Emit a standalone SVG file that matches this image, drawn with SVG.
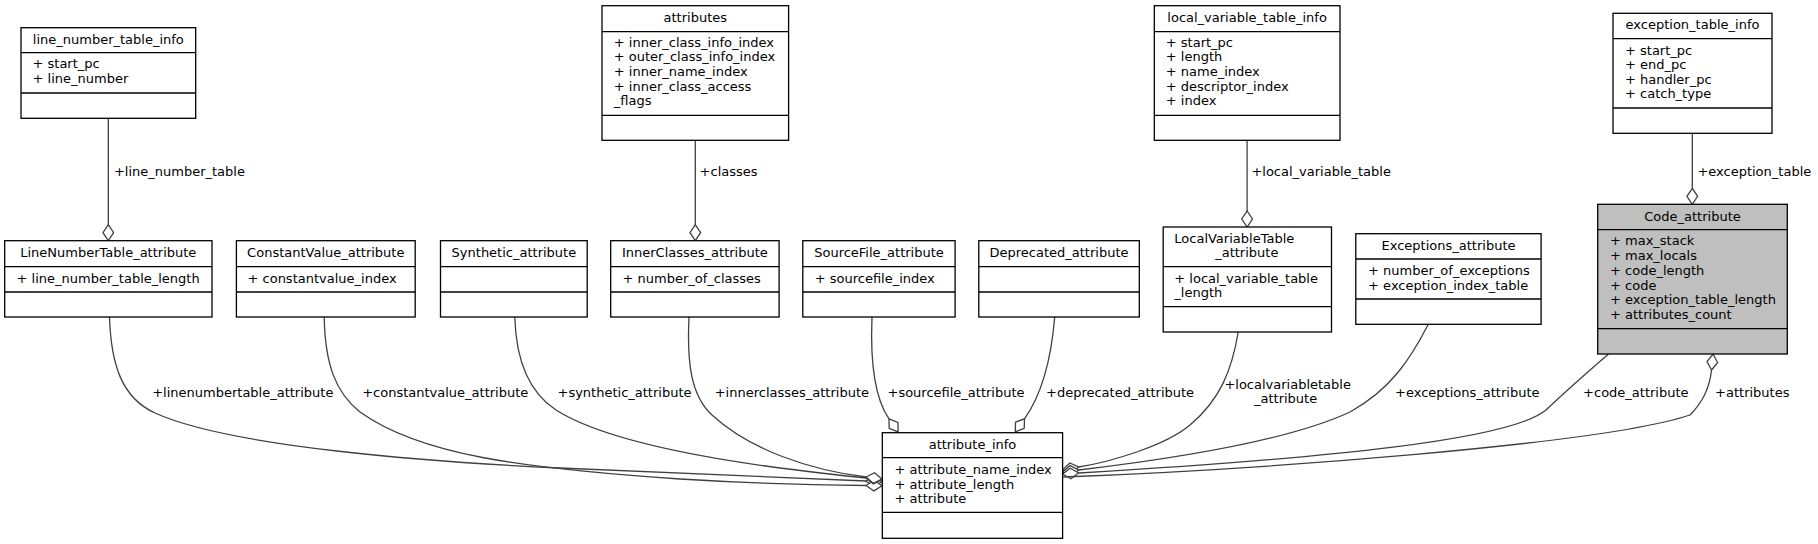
<svg xmlns="http://www.w3.org/2000/svg" width="1818" height="544" viewBox="0 0 1818 544">
<style>
text{font-family:"DejaVu Sans","Liberation Sans",sans-serif;font-size:13px;fill:#000}
.t{text-anchor:middle}
.b{fill:#fff;stroke:#000;stroke-width:1.3}
.hl{fill:#bfbfbf}
.s{stroke:#000;stroke-width:1.3}
.e{fill:none;stroke:#404040;stroke-width:1.3;marker-end:url(#od)}
.n{fill:none;stroke:#404040;stroke-width:1.3}
</style>
<defs>
<marker id="od" markerUnits="userSpaceOnUse" markerWidth="20" markerHeight="14" refX="1" refY="7" orient="auto" viewBox="0 0 20 14" style="overflow:visible">
<path d="M1,7 L9,1.67 L17,7 L9,12.33 Z" fill="#fff" stroke="#404040" stroke-width="1.3"/>
</marker>
</defs>

<g id="connectors">
<path class="e" d="M108.3,118.3 L108.3,224.7"/>
<path class="e" d="M695.3,140.3 L695.3,224.7"/>
<path class="e" d="M1247.1,140.3 L1247.1,211"/>
<path class="e" d="M1692.3,133.3 L1692.3,188.3"/>
<path class="e" d="M109.5,317 C111,365 122,398 155,413 C230,447 430,462 560,468 C700,474 800,478 866,481"/>
<path class="e" d="M324.2,317 C325,365 336,393 360,412 C420,455 520,468 680,479 C760,484 820,485 866,485.5"/>
<path class="e" d="M514.8,317 C516,362 530,393 556,410 C600,438 690,456 780,468 C820,473 845,476 866,478"/>
<path class="e" d="M689,317 C687,360 690,395 712,415 C750,450 810,470 866,477"/>
<path class="e" d="M872,317 C870,365 876,400 889,418.8"/>
<path class="e" d="M1054.7,317 C1052,350 1045,390 1024.5,418.8"/>
<path class="e" d="M1238.2,332 C1232,370 1220,400 1190,425 C1165,446 1110,462 1078.6,467"/>
<path class="e" d="M1428.3,324.3 C1410,360 1390,390 1350,412 C1290,440 1180,458 1078.6,470"/>
<path class="e" d="M1608.5,354 C1590,370 1565,392 1546,410 C1510,440 1330,458 1078.6,473"/>
<path class="e" d="M1062.6,477 C1250,470 1600,445 1690,415 C1705,400 1710,385 1711.5,370"/>
<text x="113.9" y="176">+line_number_table</text>
<text x="699.6" y="176">+classes</text>
<text x="1251.4" y="176">+local_variable_table</text>
<text x="1697.4" y="176">+exception_table</text>
<text x="152.2" y="396.5">+linenumbertable_attribute</text>
<text x="362.2" y="396.5">+constantvalue_attribute</text>
<text x="557.5" y="396.5">+synthetic_attribute</text>
<text x="714.7" y="396.5">+innerclasses_attribute</text>
<text x="887.5" y="396.5">+sourcefile_attribute</text>
<text x="1046" y="396.5">+deprecated_attribute</text>
<text x="1224.4" y="388.5">+localvariabletable</text>
<text x="1254" y="403.3">_attribute</text>
<text x="1395.1" y="396.5">+exceptions_attribute</text>
<text x="1583.1" y="396.5">+code_attribute</text>
<text x="1715.1" y="396.5">+attributes</text>
</g>

<g id="line_number_table_info">
<rect class="b" x="21" y="27.7" width="174.7" height="90.6"/>
<line class="s" x1="21" y1="52.7" x2="195.7" y2="52.7"/>
<line class="s" x1="21" y1="93" x2="195.7" y2="93"/>
<text class="t" x="108.3" y="43.5">line_number_table_info</text>
<text x="32.5" y="68.3">+ start_pc</text>
<text x="32.5" y="83.3">+ line_number</text>
</g>

<g id="attributes">
<rect class="b" x="602" y="5.7" width="186.6" height="134.6"/>
<line class="s" x1="602" y1="31.7" x2="788.6" y2="31.7"/>
<line class="s" x1="602" y1="115.3" x2="788.6" y2="115.3"/>
<text class="t" x="695.3" y="21.5">attributes</text>
<text x="613.8" y="46.5">+ inner_class_info_index</text>
<text x="613.8" y="61.3">+ outer_class_info_index</text>
<text x="613.8" y="76">+ inner_name_index</text>
<text x="613.8" y="90.7">+ inner_class_access</text>
<text x="613.8" y="105.3">_flags</text>
</g>

<g id="local_variable_table_info">
<rect class="b" x="1154.3" y="5.7" width="185.7" height="134.6"/>
<line class="s" x1="1154.3" y1="31.7" x2="1340" y2="31.7"/>
<line class="s" x1="1154.3" y1="115.3" x2="1340" y2="115.3"/>
<text class="t" x="1247.1" y="21.5">local_variable_table_info</text>
<text x="1165.8" y="46.5">+ start_pc</text>
<text x="1165.8" y="61.3">+ length</text>
<text x="1165.8" y="76">+ name_index</text>
<text x="1165.8" y="90.7">+ descriptor_index</text>
<text x="1165.8" y="105.3">+ index</text>
</g>

<g id="exception_table_info">
<rect class="b" x="1613" y="13.3" width="159" height="120"/>
<line class="s" x1="1613" y1="38.7" x2="1772" y2="38.7"/>
<line class="s" x1="1613" y1="108" x2="1772" y2="108"/>
<text class="t" x="1692.5" y="29.3">exception_table_info</text>
<text x="1625" y="54.8">+ start_pc</text>
<text x="1625" y="69.2">+ end_pc</text>
<text x="1625" y="83.6">+ handler_pc</text>
<text x="1625" y="98.4">+ catch_type</text>
</g>

<g id="LineNumberTable_attribute">
<rect class="b" x="4.7" y="240.7" width="207.3" height="76.3"/>
<line class="s" x1="4.7" y1="266.7" x2="212" y2="266.7"/>
<line class="s" x1="4.7" y1="292" x2="212" y2="292"/>
<text class="t" x="108.3" y="256.5">LineNumberTable_attribute</text>
<text x="16.6" y="282.5">+ line_number_table_length</text>
</g>

<g id="ConstantValue_attribute">
<rect class="b" x="236.4" y="240.7" width="178.8" height="76.3"/>
<line class="s" x1="236.4" y1="266.7" x2="415.2" y2="266.7"/>
<line class="s" x1="236.4" y1="292" x2="415.2" y2="292"/>
<text class="t" x="325.8" y="256.5">ConstantValue_attribute</text>
<text x="247.5" y="282.5">+ constantvalue_index</text>
</g>

<g id="Synthetic_attribute">
<rect class="b" x="440.5" y="240.7" width="146.7" height="76.3"/>
<line class="s" x1="440.5" y1="266.7" x2="587.2" y2="266.7"/>
<line class="s" x1="440.5" y1="292" x2="587.2" y2="292"/>
<text class="t" x="513.9" y="256.5">Synthetic_attribute</text>
</g>

<g id="InnerClasses_attribute">
<rect class="b" x="610.7" y="240.7" width="168.4" height="76.3"/>
<line class="s" x1="610.7" y1="266.7" x2="779.1" y2="266.7"/>
<line class="s" x1="610.7" y1="292" x2="779.1" y2="292"/>
<text class="t" x="694.9" y="256.5">InnerClasses_attribute</text>
<text x="622.5" y="282.5">+ number_of_classes</text>
</g>

<g id="SourceFile_attribute">
<rect class="b" x="802.8" y="240.7" width="152.3" height="76.3"/>
<line class="s" x1="802.8" y1="266.7" x2="955.1" y2="266.7"/>
<line class="s" x1="802.8" y1="292" x2="955.1" y2="292"/>
<text class="t" x="879" y="256.5">SourceFile_attribute</text>
<text x="814.7" y="282.5">+ sourcefile_index</text>
</g>

<g id="Deprecated_attribute">
<rect class="b" x="978.8" y="240.7" width="160.5" height="76.3"/>
<line class="s" x1="978.8" y1="266.7" x2="1139.3" y2="266.7"/>
<line class="s" x1="978.8" y1="292" x2="1139.3" y2="292"/>
<text class="t" x="1059" y="256.5">Deprecated_attribute</text>
</g>

<g id="LocalVariableTable_attribute">
<rect class="b" x="1163.2" y="227" width="168.3" height="105"/>
<line class="s" x1="1163.2" y1="266.7" x2="1331.5" y2="266.7"/>
<line class="s" x1="1163.2" y1="306.7" x2="1331.5" y2="306.7"/>
<text x="1174.3" y="242.5">LocalVariableTable</text>
<text x="1215.2" y="256.5">_attribute</text>
<text x="1174.3" y="282.5">+ local_variable_table</text>
<text x="1174.3" y="297">_length</text>
</g>

<g id="Exceptions_attribute">
<rect class="b" x="1355.8" y="233.7" width="185.3" height="90.6"/>
<line class="s" x1="1355.8" y1="259" x2="1541.1" y2="259"/>
<line class="s" x1="1355.8" y1="299" x2="1541.1" y2="299"/>
<text class="t" x="1448.5" y="249.8">Exceptions_attribute</text>
<text x="1368.1" y="274.5">+ number_of_exceptions</text>
<text x="1368.1" y="289.5">+ exception_index_table</text>
</g>

<g id="Code_attribute">
<rect class="b hl" x="1597.7" y="204.3" width="189.6" height="149.7"/>
<line class="s" x1="1597.7" y1="229.7" x2="1787.3" y2="229.7"/>
<line class="s" x1="1597.7" y1="328.7" x2="1787.3" y2="328.7"/>
<text class="t" x="1692.5" y="221">Code_attribute</text>
<text x="1610" y="245">+ max_stack</text>
<text x="1610" y="260">+ max_locals</text>
<text x="1610" y="274.5">+ code_length</text>
<text x="1610" y="289.5">+ code</text>
<text x="1610" y="304">+ exception_table_length</text>
<text x="1610" y="318.5">+ attributes_count</text>
</g>

<g id="attribute_info">
<rect class="b" x="882.3" y="432.7" width="180.3" height="105.6"/>
<line class="s" x1="882.3" y1="457.7" x2="1062.6" y2="457.7"/>
<line class="s" x1="882.3" y1="512.3" x2="1062.6" y2="512.3"/>
<text class="t" x="972.5" y="449.3">attribute_info</text>
<text x="894.6" y="474.3">+ attribute_name_index</text>
<text x="894.6" y="488.5">+ attribute_length</text>
<text x="894.6" y="502.6">+ attribute</text>
</g>
</svg>
